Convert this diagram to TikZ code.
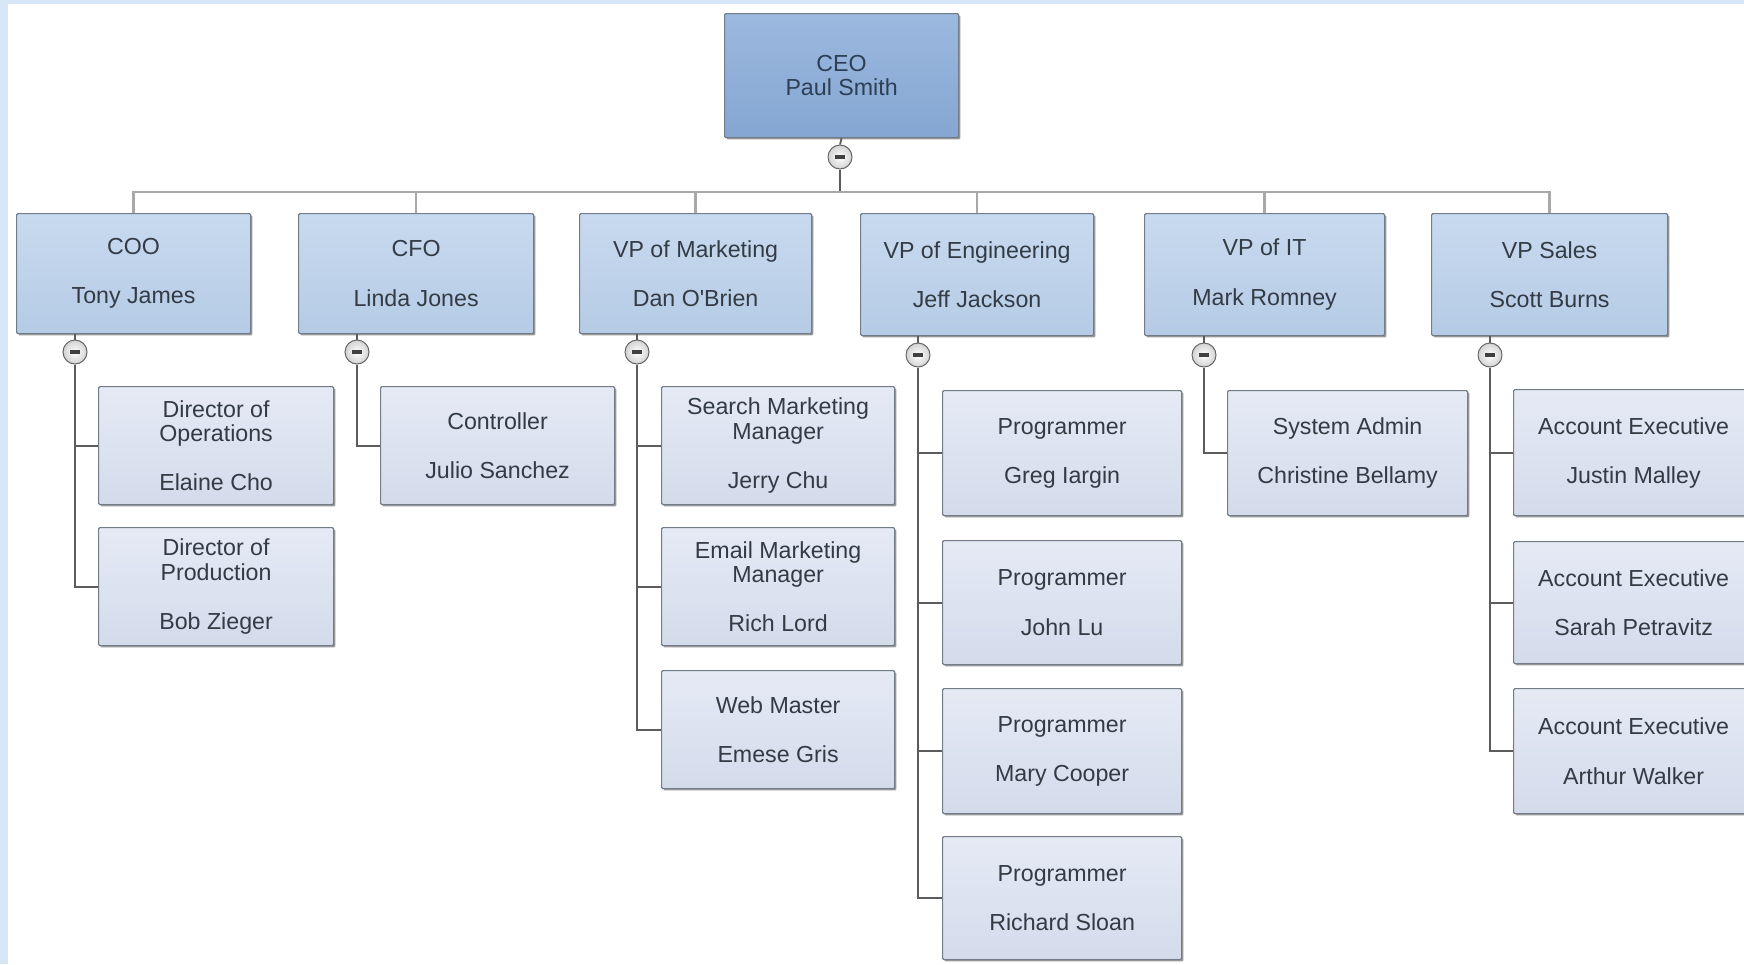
\documentclass[tikz,border=0pt]{standalone}
\usepackage{fontspec}
\setmainfont{Liberation Sans}
\usetikzlibrary{shadows}
\definecolor{bgblue}{HTML}{D8E7F7}
\definecolor{bordc}{HTML}{737D88}
\definecolor{txt}{HTML}{333B45}
\definecolor{ceotxt}{HTML}{2E3F55}
\definecolor{ceotop}{HTML}{9CB9DF}
\definecolor{ceobot}{HTML}{84A6D2}
\definecolor{lonetop}{HTML}{C8DAEF}
\definecolor{lonebot}{HTML}{B5CBE5}
\definecolor{ltwotop}{HTML}{E5EAF5}
\definecolor{ltwobot}{HTML}{D3DBEB}
\definecolor{busc}{HTML}{A8A8A8}
\definecolor{connc}{HTML}{5C5C5C}
\tikzset{
  box/.style 2 args={rectangle, anchor=north west, inner sep=0pt,
    minimum width=#1*0.5pt, minimum height=#2*0.5pt, align=center,
    draw=bordc, line width=0.6pt, rounded corners=0.6pt,
    font=\fontsize{11.6}{12.3}\selectfont, text=txt,
    drop shadow={shadow xshift=0.9pt, shadow yshift=-0.9pt, fill=black, opacity=0.4}},
  ceobox/.style={top color=ceotop, bottom color=ceobot, text=ceotxt},
  lone/.style={top color=lonetop, bottom color=lonebot},
  ltwo/.style={top color=ltwotop, bottom color=ltwobot},
  collapse/.style={circle, minimum size=12pt, inner sep=0pt, draw=gray!80!black, line width=0.5pt,
    inner color=white, outer color=gray!35,
    path picture={\fill[black!75] ([xshift=-2.4pt,yshift=-0.9pt]path picture bounding box.center)
      rectangle ([xshift=2.4pt,yshift=0.9pt]path picture bounding box.center);}},
  bus/.style={draw=busc, line width=1.3pt},
  conn/.style={draw=connc, line width=0.9pt},
}
\begin{document}
\begin{tikzpicture}[x=0.5pt,y=-0.5pt]
\useasboundingbox (0,0) rectangle (1744,964);
\clip (0,0) rectangle (1744,964);
\fill[white] (0,0) rectangle (1744,964);
\fill[bgblue] (0,0) rectangle (8,964);
\fill[bgblue] (0,0) rectangle (1744,4);

% CEO
\node[box={234}{124}, ceobox] (ceo) at (724,13) {CEO\\Paul Smith};
\node[collapse] (cceo) at (840,157) {};
\coordinate (bus) at (840,192);

% Level 1
\node[box={234}{120}, lone] (coo) at (16,213) {COO\\[12.3pt]Tony James};
\node[box={235}{120}, lone] (cfo) at (298,213) {CFO\\[12.3pt]Linda Jones};
\node[box={232}{120}, lone] (mkt) at (579,213) {VP of Marketing\\[12.3pt]Dan O\textquotesingle Brien};
\node[box={233}{122}, lone] (eng) at (860,213) {VP of Engineering\\[12.3pt]Jeff Jackson};
\node[box={240}{122}, lone] (it) at (1144,213) {VP of IT\\[12.3pt]Mark Romney};
\node[box={236}{122}, lone] (sales) at (1431,213) {VP Sales\\[12.3pt]Scott Burns};

\node[collapse] (ccoo) at (75,352) {};
\node[collapse] (ccfo) at (357,352) {};
\node[collapse] (cmkt) at (637,352) {};
\node[collapse] (ceng) at (918,355) {};
\node[collapse] (cit) at (1204,355) {};
\node[collapse] (csales) at (1490,355) {};

% Level 2
\node[box={235}{118}, ltwo] (ops) at (98,386) {Director of\\Operations\\[12.3pt]Elaine Cho};
\node[box={235}{118}, ltwo] (prod) at (98,527) {Director of\\Production\\[12.3pt]Bob Zieger};

\node[box={234}{118}, ltwo] (ctrl) at (380,386) {Controller\\[12.3pt]Julio Sanchez};

\node[box={233}{118}, ltwo] (smm) at (661,386) {Search Marketing\\Manager\\[12.3pt]Jerry Chu};
\node[box={233}{118}, ltwo] (emm) at (661,527) {Email Marketing\\Manager\\[12.3pt]Rich Lord};
\node[box={233}{118}, ltwo] (web) at (661,670) {Web Master\\[12.3pt]Emese Gris};

\node[box={239}{125}, ltwo] (p1) at (942,390) {Programmer\\[12.3pt]Greg Iargin};
\node[box={239}{124}, ltwo] (p2) at (942,540) {Programmer\\[12.3pt]John Lu};
\node[box={239}{125}, ltwo] (p3) at (942,688) {Programmer\\[12.3pt]Mary Cooper};
\node[box={239}{123}, ltwo] (p4) at (942,836) {Programmer\\[12.3pt]Richard Sloan};

\node[box={240}{125}, ltwo] (sa) at (1227,390) {System Admin\\[12.3pt]Christine Bellamy};

\node[box={240}{126}, ltwo] (ae1) at (1513,389) {Account Executive\\[12.3pt]Justin Malley};
\node[box={240}{122}, ltwo] (ae2) at (1513,541) {Account Executive\\[12.3pt]Sarah Petravitz};
\node[box={240}{125}, ltwo] (ae3) at (1513,688) {Account Executive\\[12.3pt]Arthur Walker};

% Connectors: CEO to level 1
\draw[conn] (ceo.south) -- (cceo.north);
\draw[conn] (cceo.south) -- (bus);
\foreach \n in {coo,cfo,mkt,eng,it,sales}{
  \draw[bus] (bus) -| (\n.north);
}

% Connectors: level 1 to level 2
\foreach \p/\c in {coo/ccoo,cfo/ccfo,mkt/cmkt,eng/ceng,it/cit,sales/csales}{
  \draw[conn] (\p.south -| \c) -- (\c.north);
}
\foreach \c/\k in {ccoo/ops,ccoo/prod,ccfo/ctrl,cmkt/smm,cmkt/emm,cmkt/web,ceng/p1,ceng/p2,ceng/p3,ceng/p4,cit/sa,csales/ae1,csales/ae2,csales/ae3}{
  \draw[conn] (\c.south) |- (\k.west);
}
\end{tikzpicture}
\end{document}
